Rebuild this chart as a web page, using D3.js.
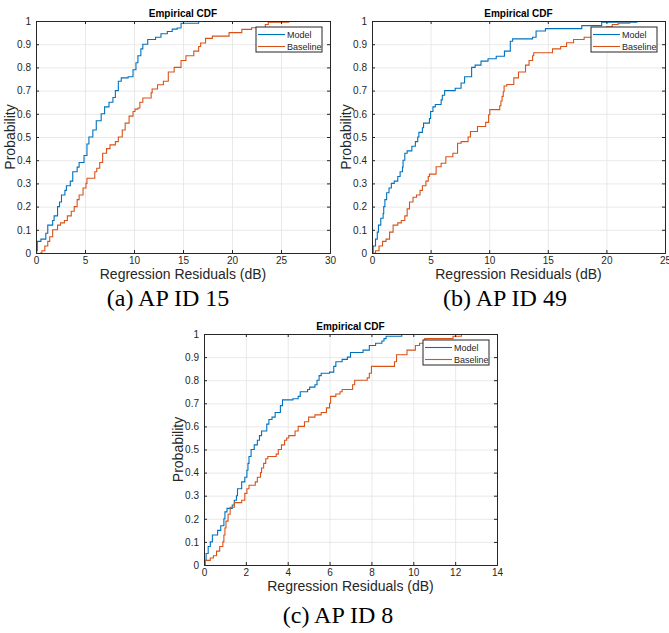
<!DOCTYPE html>
<html><head><meta charset="utf-8">
<script src="https://cdn.jsdelivr.net/npm/d3@7"></script>
<style>
html,body{margin:0;padding:0;background:#fff;}
svg{display:block;}
</style></head>
<body>
<svg id="c" width="669" height="633"></svg>
<script>
// ---------- data ----------
const seriesNames = ["Model", "Baseline"];
const yTickValues = [0,0.1,0.2,0.3,0.4,0.5,0.6,0.7,0.8,0.9,1];
const yTickLabels = ["0","0.1","0.2","0.3","0.4","0.5","0.6","0.7","0.8","0.9","1"];
const titleText = "Empirical CDF";
const xLabelText = "Regression Residuals (dB)";
const yLabelText = "Probability";
const captions = ["(a) AP ID 15", "(b) AP ID 49", "(c) AP ID 8"];

// Panel (a) AP ID 15
const aXTicks = [0,5,10,15,20,25,30];
const aModelX = [0,0.07,0.13,0.5,1.0,1.2,1.7,1.85,2.2,2.4,2.6,2.95,3.1,3.5,3.75,4.2,4.4,4.9,5.2,5.4,5.8,6.15,6.65,7.0,7.45,7.85,8.1,8.4,8.7,9.4,9.9,10.2,10.4,10.7,10.9,11.4,12.2,12.75,13.4,13.9,14.4,14.8,16.6];
const aModelP = [0,0.01,0.05,0.06,0.085,0.12,0.14,0.16,0.2,0.22,0.25,0.27,0.29,0.31,0.35,0.37,0.39,0.42,0.47,0.5,0.53,0.57,0.6,0.63,0.65,0.67,0.7,0.74,0.755,0.76,0.79,0.82,0.85,0.88,0.9,0.92,0.93,0.945,0.955,0.965,0.97,0.99,1.0];
const aBaseX = [0.4,0.6,0.9,1.2,1.4,1.7,2.2,2.5,2.9,3.2,3.6,3.9,4.2,4.4,4.8,5.1,5.2,6.0,6.2,6.5,6.8,7.2,7.55,8.1,8.4,8.8,9.1,9.5,9.9,10.1,10.4,10.6,10.9,11.75,11.85,12.4,13.0,13.5,14.1,14.8,15.3,16.1,16.6,16.8,17.3,18.0,19.7,21.0,22.0,23.4,23.7,25.8];
const aBaseP = [0,0.01,0.03,0.05,0.07,0.1,0.12,0.13,0.14,0.16,0.18,0.2,0.23,0.25,0.28,0.3,0.322,0.35,0.365,0.39,0.43,0.45,0.466,0.48,0.5,0.53,0.56,0.59,0.61,0.62,0.625,0.65,0.668,0.69,0.707,0.725,0.74,0.78,0.8,0.83,0.85,0.87,0.89,0.905,0.925,0.935,0.95,0.964,0.971,0.985,0.995,1.0];

// Panel (b) AP ID 49
const bXTicks = [0,5,10,15,20,25];
const bModelX = [0,0.1,0.3,0.45,0.55,0.75,0.95,1.0,1.1,1.25,1.45,1.65,1.9,2.2,2.4,2.6,2.65,2.8,3.0,3.4,3.7,3.9,4.0,4.3,4.4,4.9,5.0,5.2,5.4,5.9,6.0,6.2,7.1,7.6,7.9,8.5,8.8,9.3,9.9,10.6,11.3,11.8,12.0,13.7,14.0,14.8,17.9,19.6,22.6];
const bModelP = [0,0.03,0.06,0.09,0.12,0.15,0.17,0.2,0.23,0.26,0.28,0.3,0.31,0.33,0.35,0.37,0.4,0.43,0.44,0.46,0.48,0.5,0.52,0.54,0.56,0.58,0.61,0.63,0.64,0.66,0.68,0.7,0.71,0.733,0.76,0.8,0.81,0.827,0.837,0.848,0.87,0.913,0.923,0.93,0.957,0.967,0.98,0.995,1.0];
const bBaseX = [0.2,0.3,0.6,0.9,1.2,1.5,1.8,2.2,2.5,2.8,3.0,3.2,3.5,3.8,4.1,4.3,4.6,4.8,4.9,5.47,5.9,6.3,6.9,7.3,7.6,8.2,8.4,9.0,9.7,9.95,10.05,10.9,11.0,11.1,11.2,11.27,11.5,12.1,12.5,13.1,13.4,13.7,13.8,15.4,16.1,16.6,17.2,18.1,18.8,19.4,20.0,20.5,21.0,22.0];
const bBaseP = [0,0.01,0.03,0.05,0.06,0.09,0.12,0.13,0.14,0.16,0.19,0.22,0.24,0.25,0.27,0.29,0.31,0.33,0.34,0.372,0.387,0.415,0.43,0.473,0.48,0.5,0.524,0.545,0.563,0.596,0.618,0.635,0.655,0.675,0.695,0.72,0.726,0.755,0.78,0.81,0.83,0.85,0.863,0.88,0.89,0.906,0.92,0.93,0.945,0.96,0.975,0.985,0.99,1.0];

// Panel (c) AP ID 8
const cXTicks = [0,2,4,6,8,10,12,14];
const cModelX = [0,0.05,0.1,0.2,0.3,0.4,0.65,0.8,0.95,1.0,1.1,1.35,1.45,1.55,1.6,1.8,1.95,2.05,2.1,2.15,2.25,2.4,2.55,2.65,2.75,3.0,3.1,3.25,3.4,3.65,3.75,4.25,4.5,4.6,4.95,5.05,5.3,5.4,5.5,5.6,6.0,6.2,6.3,6.6,6.85,7.0,7.6,7.9,8.2,8.5,8.6,8.7,9.45];
const cModelP = [0,0.02,0.05,0.08,0.1,0.13,0.15,0.17,0.2,0.23,0.245,0.26,0.28,0.3,0.33,0.36,0.38,0.41,0.44,0.47,0.5,0.52,0.54,0.56,0.58,0.61,0.63,0.64,0.66,0.69,0.715,0.72,0.73,0.75,0.76,0.77,0.78,0.8,0.82,0.83,0.835,0.86,0.88,0.89,0.9,0.92,0.93,0.95,0.96,0.97,0.98,0.99,1.0];
const cBaseX = [0,0.05,0.3,0.45,0.6,0.75,0.9,0.95,1.0,1.05,1.15,1.25,1.45,1.8,1.95,2.05,2.15,2.45,2.55,2.7,2.75,2.85,2.95,3.05,3.45,3.55,3.7,3.85,3.95,4.05,4.35,4.5,4.8,5.0,5.3,5.6,5.85,6.0,6.05,6.3,6.5,6.6,7.1,7.2,7.8,7.9,8.0,9.1,9.2,9.7,10.1,10.3,10.55,11.9,12.3];
const cBaseP = [0,0.02,0.03,0.04,0.06,0.08,0.1,0.13,0.16,0.19,0.22,0.25,0.27,0.28,0.31,0.33,0.345,0.36,0.38,0.4,0.42,0.44,0.46,0.47,0.48,0.5,0.52,0.54,0.55,0.56,0.58,0.6,0.62,0.64,0.65,0.66,0.68,0.7,0.73,0.74,0.75,0.76,0.78,0.8,0.81,0.83,0.86,0.88,0.91,0.93,0.95,0.96,0.98,0.99,1.0];

// ---------- layout ----------
const colors = ["#0072BD", "#D95319"];
const panels = [
  {x0:36, x1:330, y0:21, y1:253, xmax:30, xticks:aXTicks, series:[[aModelX,aModelP],[aBaseX,aBaseP]], cap:captions[0], capX:168, capY:306},
  {x0:372, x1:665, y0:21, y1:253, xmax:25, xticks:bXTicks, series:[[bModelX,bModelP],[bBaseX,bBaseP]], cap:captions[1], capX:505, capY:306},
  {x0:204, x1:497, y0:334, y1:565, xmax:14, xticks:cXTicks, series:[[cModelX,cModelP],[cBaseX,cBaseP]], cap:captions[2], capX:338, capY:623}
];

const svg = d3.select("#c");
const axCol = "#262626";
const font = "'Liberation Sans', Arial, Helvetica, sans-serif";

panels.forEach(pn => {
  const x = d3.scaleLinear().domain([0, pn.xmax]).range([pn.x0, pn.x1]);
  const y = d3.scaleLinear().domain([0, 1]).range([pn.y1, pn.y0]);
  const g = svg.append("g");
  const W = pn.x1 - pn.x0, H = pn.y1 - pn.y0;

  g.append("rect").attr("x", pn.x0).attr("y", pn.y0).attr("width", W).attr("height", H).attr("fill", "#fff");

  // grid
  const gx = g.append("g").attr("transform", `translate(0,${pn.y1})`)
    .call(d3.axisBottom(x).tickValues(pn.xticks).tickSize(-H).tickFormat(""));
  const gy = g.append("g").attr("transform", `translate(${pn.x0},0)`)
    .call(d3.axisLeft(y).tickValues(yTickValues).tickSize(-W).tickFormat(""));
  [gx, gy].forEach(a => {
    a.select(".domain").remove();
    a.selectAll("line").attr("stroke", "#e3e3e3").attr("stroke-width", 0.8);
  });

  // lines
  const line = d3.line().x(d => x(d[0])).y(d => y(d[1])).curve(d3.curveStepAfter);
  pn.series.forEach((s, i) => {
    const pts = s[0].map((v, k) => [v, s[1][k]]);
    g.append("path").datum(pts).attr("d", line)
      .attr("fill", "none").attr("stroke", colors[i]).attr("stroke-width", 1.1);
  });

  // axes
  const ax = g.append("g").attr("transform", `translate(0,${pn.y1})`)
    .call(d3.axisBottom(x).tickValues(pn.xticks).tickSize(-3).tickPadding(4).tickFormat(d3.format("d")));
  const ay = g.append("g").attr("transform", `translate(${pn.x0},0)`)
    .call(d3.axisLeft(y).tickValues(yTickValues).tickSize(-3).tickPadding(5).tickFormat((d, i) => yTickLabels[i]));
  const at = g.append("g").attr("transform", `translate(0,${pn.y0})`)
    .call(d3.axisTop(x).tickValues(pn.xticks).tickSize(-3).tickFormat(""));
  const ar = g.append("g").attr("transform", `translate(${pn.x1},0)`)
    .call(d3.axisRight(y).tickValues(yTickValues).tickSize(-3).tickFormat(""));
  [ax, ay, at, ar].forEach(a => {
    a.select(".domain").attr("stroke", axCol).attr("stroke-width", 1);
    a.selectAll("line").attr("stroke", axCol);
    a.selectAll("text").attr("fill", axCol).style("font-family", font).style("font-size", "10px");
  });

  // title
  g.append("text").attr("x", (pn.x0 + pn.x1) / 2).attr("y", pn.y0 - 4)
    .attr("text-anchor", "middle").attr("fill", "#000")
    .style("font-family", font).style("font-size", "10px").style("font-weight", "bold")
    .text(titleText);

  // x label
  g.append("text").attr("x", (pn.x0 + pn.x1) / 2).attr("y", pn.y1 + 26)
    .attr("text-anchor", "middle").attr("fill", axCol)
    .style("font-family", font).style("font-size", "14px")
    .text(xLabelText);

  // y label
  g.append("text").attr("transform", `translate(${pn.x0 - 21},${(pn.y0 + pn.y1) / 2}) rotate(-90)`)
    .attr("text-anchor", "middle").attr("fill", axCol)
    .style("font-family", font).style("font-size", "14px")
    .text(yLabelText);

  // legend
  const lw = 66, lh = 25;
  const lx = pn.x1 - 8 - lw, ly = pn.y0 + 6;
  const lg = g.append("g");
  lg.append("rect").attr("x", lx).attr("y", ly).attr("width", lw).attr("height", lh)
    .attr("fill", "#fff").attr("stroke", axCol).attr("stroke-width", 1);
  seriesNames.forEach((nm, i) => {
    const yy = ly + 7.5 + i * 12;
    lg.append("line").attr("x1", lx + 2).attr("x2", lx + 29).attr("y1", yy).attr("y2", yy)
      .attr("stroke", colors[i]).attr("stroke-width", 1.1);
    lg.append("text").attr("x", lx + 31).attr("y", yy + 3).attr("fill", axCol)
      .style("font-family", font).style("font-size", "9px").text(nm);
  });

  // caption
  svg.append("text").attr("x", pn.capX).attr("y", pn.capY).attr("text-anchor", "middle")
    .attr("fill", "#000").style("font-family", "'Liberation Serif', 'Times New Roman', serif")
    .style("font-size", "24px").text(pn.cap);
});
</script>
</body></html>
